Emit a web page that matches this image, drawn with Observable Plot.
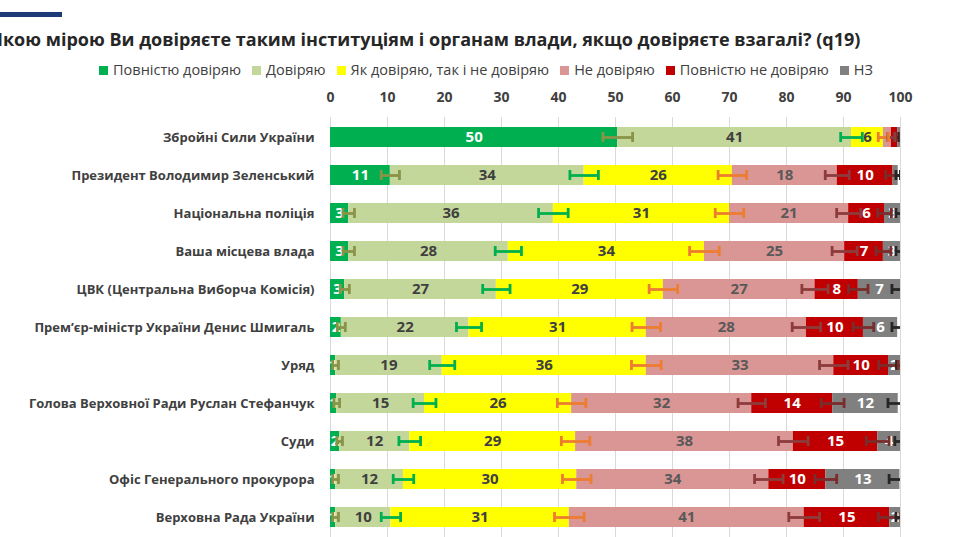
<!DOCTYPE html>
<html><head><meta charset="utf-8">
<script src="https://cdn.jsdelivr.net/npm/d3@7"></script>
<script src="https://cdn.jsdelivr.net/npm/@observablehq/plot@0.6"></script>
<style>
body{margin:0;background:#fff;width:955px;height:537px;overflow:hidden;position:relative;font-family:"Open Sans",sans-serif;}
#deco{position:absolute;left:0;top:12px;width:62px;height:5px;background:#1f3a78;}
#title{position:absolute;left:-9px;top:27px;white-space:nowrap;font-weight:700;font-size:18px;color:#262626;}
#legend{position:absolute;top:60px;left:0;width:972px;display:flex;justify-content:center;gap:11px;font-size:14.5px;color:#404040;white-space:nowrap;}
#legend span.sw{display:inline-block;width:9px;height:9px;margin-right:5px;vertical-align:0px;}
#chart{position:absolute;top:82px;left:0;}
</style></head>
<body>
<div id="deco"></div>
<div id="title">Якою мірою Ви довіряєте таким інституціям і органам влади, якщо довіряєте взагалі? (q19)</div>
<div id="legend"></div>
<div id="chart"></div>
<script>
const categories = [
  "Збройні Сили України",
  "Президент Володимир Зеленський",
  "Національна поліція",
  "Ваша місцева влада",
  "ЦВК (Центральна Виборча Комісія)",
  "Прем’єр-міністр України Денис Шмигаль",
  "Уряд",
  "Голова Верховної Ради Руслан Стефанчук",
  "Суди",
  "Офіс Генерального прокурора",
  "Верховна Рада України"
];
const seriesNames = ["Повністю довіряю","Довіряю","Як довіряю, так і не довіряю","Не довіряю","Повністю не довіряю","НЗ"];
const seriesColors = ["#00b050","#c4d79b","#ffff00","#da9694","#c00000","#808080"];
const labelColors = ["#ffffff","#404040","#404040","#595959","#ffffff","#ffffff"];
const errorColors = ["#8a9448","#00b050","#ed7d31","#8e3b3b","#7b2c2c","#262626"];

const fullyTrust    = [50.4, 10.5, 3.2, 3.2, 2.5, 1.9, 0.9, 1.1, 1.6, 0.9, 0.9];
const trust         = [41.0, 34.0, 35.9, 28.0, 26.6, 22.4, 18.7, 15.4, 12.3, 11.9, 9.7];
const neutral       = [5.6, 26.0, 30.9, 34.4, 29.3, 31.1, 35.8, 25.8, 29.1, 30.4, 31.3];
const distrust      = [1.4, 18.4, 20.9, 24.6, 26.6, 28.1, 32.9, 31.6, 38.2, 33.7, 41.2];
const fullyDistrust = [1.1, 9.8, 6.3, 6.8, 7.6, 10.0, 9.6, 14.2, 14.8, 10.0, 15.0];
const dontKnow      = [0.5, 0.9, 2.8, 3.0, 7.4, 6.0, 2.1, 11.5, 4.0, 13.0, 1.9];

// error bar half-widths (percentage points) at the end of each segment
const errFullyTrust    = [2.6, 1.6, 1.0, 1.0, 0.8, 0.7, 0.5, 0.5, 0.5, 0.5, 0.5];
const errTrust         = [1.9, 2.5, 2.6, 2.3, 2.4, 2.2, 2.2, 2.0, 1.9, 1.8, 1.7];
const errNeutral       = [0.9, 2.5, 2.5, 2.6, 2.5, 2.5, 2.6, 2.5, 2.5, 2.5, 2.6];
const errDistrust      = [0.6, 2.1, 2.1, 2.2, 2.3, 2.5, 2.5, 2.4, 2.6, 2.5, 2.7];
const errFullyDistrust = [0.5, 1.3, 1.2, 1.3, 1.7, 1.8, 1.7, 2.0, 2.0, 1.9, 2.0];
const errDontKnow      = [0.3, 0.4, 0.8, 0.8, 1.5, 1.0, 0.7, 1.8, 1.0, 1.9, 0.8];

// labels that are not shown in the original: [row, series]
const hiddenLabels = [[0,3],[0,4],[0,5],[1,5]];
const xTicks = [0,10,20,30,40,50,60,70,80,90,100];

const values = [fullyTrust, trust, neutral, distrust, fullyDistrust, dontKnow];
const errors = [errFullyTrust, errTrust, errNeutral, errDistrust, errFullyDistrust, errDontKnow];

const rows = [];
categories.forEach((c, i) => {
  let cum = 0;
  values.forEach((arr, s) => {
    const v = arr[i];
    rows.push({cat: c, s, series: seriesNames[s], x1: cum, x2: cum + v, v,
      err: errors[s][i],
      show: !hiddenLabels.some(([r, k]) => r === i && k === s)});
    cum += v;
  });
});

// legend
const lg = document.getElementById("legend");
seriesNames.forEach((n, i) => {
  const d = document.createElement("div");
  d.innerHTML = `<span class="sw" style="background:${seriesColors[i]}"></span>${n}`;
  lg.appendChild(d);
});

const chart = Plot.plot({
  width: 955,
  height: 455,
  marginLeft: 330,
  marginRight: 55,
  marginTop: 35,
  marginBottom: 0,
  style: {fontFamily: "Open Sans, sans-serif", background: "#fff"},
  x: {domain: [0, 100]},
  y: {domain: categories, paddingInner: 0.47, paddingOuter: 0.25},
  marks: [
    Plot.gridX(xTicks, {stroke: "#d9d9d9", strokeOpacity: 1}),
    Plot.axisX({anchor: "top", ticks: xTicks, tickSize: 0, tickPadding: 16, fontSize: 14, fontWeight: "bold", fill: "#404040", label: null}),
    Plot.axisY({tickSize: 0, tickPadding: 16, fontSize: 13, fontWeight: "bold", fill: "#404040", label: null}),
    Plot.barX(rows, {y: "cat", x1: "x1", x2: "x2", fill: d => seriesColors[d.s]}),
    Plot.text(rows.filter(d => d.show), {y: "cat", x: d => (d.x1 + d.x2) / 2, text: d => String(Math.round(d.v)),
      fill: d => labelColors[d.s], fontSize: 15, fontWeight: "bold"}),
    Plot.ruleY(rows, {y: "cat", x1: d => d.x2 - d.err, x2: d => d.x2 + d.err, stroke: d => errorColors[d.s], strokeWidth: 2.8, clip: true}),
    Plot.tickX(rows, {y: "cat", x: d => d.x2 - d.err, stroke: d => errorColors[d.s], strokeWidth: 2.8, insetTop: 5, insetBottom: 5, clip: true}),
    Plot.tickX(rows, {y: "cat", x: d => d.x2 + d.err, stroke: d => errorColors[d.s], strokeWidth: 2.8, insetTop: 5, insetBottom: 5, clip: true})
  ]
});
document.getElementById("chart").appendChild(chart);
</script>
</body></html>
